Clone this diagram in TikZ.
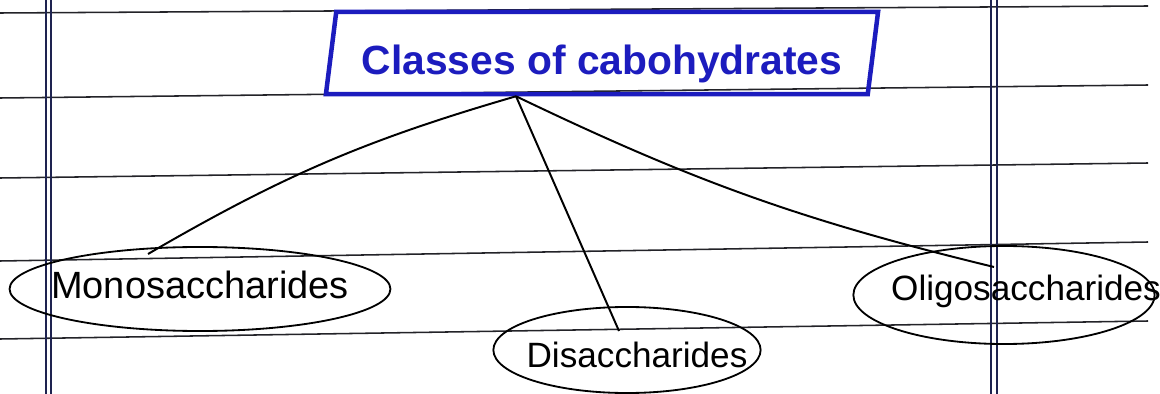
\documentclass[tikz,border=0pt]{standalone}
\usepackage{fontspec}
\setmainfont{Liberation Sans}
\usetikzlibrary{shapes.geometric}
\definecolor{inkblue}{RGB}{28,28,190}
\definecolor{ruleink}{RGB}{35,35,40}
\definecolor{marginink}{RGB}{30,35,80}

\begin{document}
\begin{tikzpicture}[
  x=0.025cm, y=-0.025cm,
  titlebox/.style={
    draw=inkblue,
    line width=3.2pt,
    trapezium,
    trapezium left angle=79,
    trapezium right angle=101,
    trapezium stretches body,
    minimum width=13.8cm,
    minimum height=2.05cm,
    text=inkblue,
    font=\fontsize{29}{33}\selectfont\bfseries,
    text height=31pt,
    text depth=0pt
  },
  classoval/.style={
    draw,
    ellipse,
    line width=1.3pt
  },
  ovaltext/.style={font=\fontsize{25}{30}\selectfont},
  link/.style={line width=1.4pt},
  ruleline/.style={draw=ruleink, line width=1.1pt},
  marginline/.style={draw=marginink, line width=0.9pt}
]
\useasboundingbox[fill=white] (0,0) rectangle (1160,394);

% ruled paper
\draw[ruleline] (0,13) -- (1148,6);
\draw[ruleline] (0,98) -- (1148,85);
\draw[ruleline] (0,178) -- (1148,163);
\draw[ruleline] (0,261) -- (1148,242);
\draw[ruleline] (0,339) -- (1148,321);
\draw[marginline] (46,0) -- (46,394);
\draw[marginline] (51,0) -- (51,394);
\draw[marginline] (991,0) -- (991,394);
\draw[marginline] (997,0) -- (997,394);

% title
\node[titlebox] (classes) at (602,53) {Classes of cabohydrates};

% the three classes
\node[classoval, minimum width=9.52cm, minimum height=2.1cm,
  label={[ovaltext, font=\fontsize{27}{32}\selectfont, yshift=0.1cm]center:Monosaccharides}] (mono) at (200,289) {};
\node[classoval, minimum width=6.68cm, minimum height=2.15cm,
  label={[ovaltext, xshift=0.25cm, yshift=-0.12cm]center:Disaccharides}] (di) at (627,350) {};
\node[classoval, minimum width=7.53cm, minimum height=2.45cm,
  label={[ovaltext, xshift=0.55cm, yshift=0.08cm]center:Oligosaccharides}] (oligo) at (1004,295) {};

% links
\coordinate (apex) at ([xshift=-2.15cm]classes.south);
\draw[link] (apex) to[bend right=7] ([shift={(-52,-35)}]mono.center);
\draw[link] (apex) -- ([shift={(-8,-19)}]di.center);
\draw[link] (apex) to[bend right=6] ([shift={(-10,-28)}]oligo.center);

\end{tikzpicture}
\end{document}
